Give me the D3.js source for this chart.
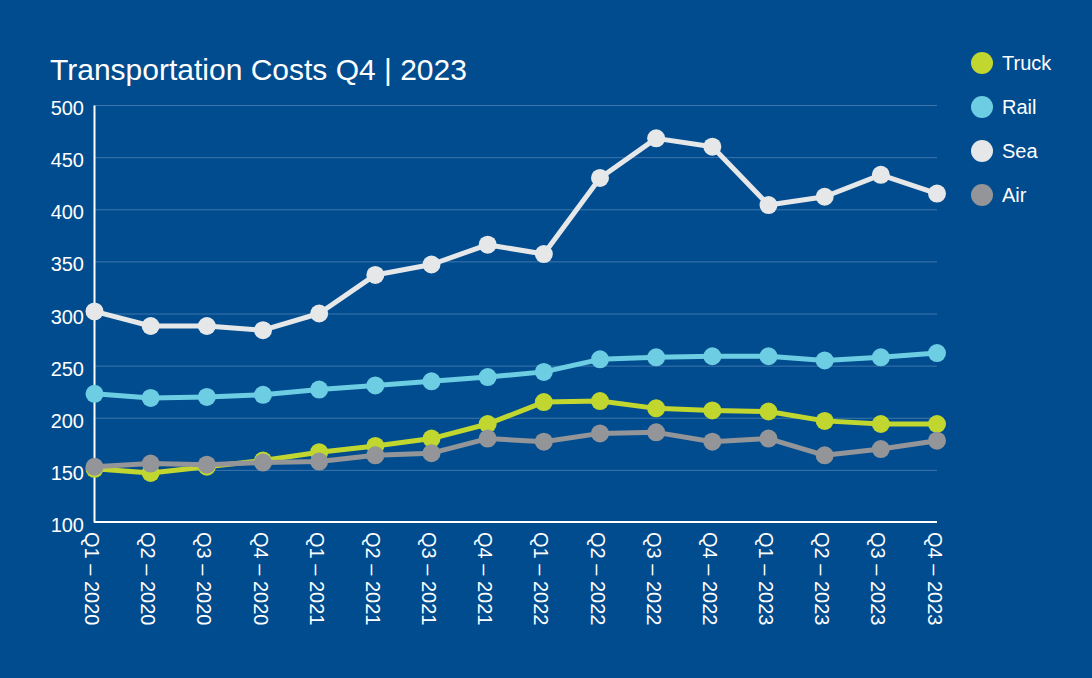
<!DOCTYPE html>
<html>
<head>
<meta charset="utf-8">
<script src="https://cdn.jsdelivr.net/npm/d3@7"></script>
<style>
  html, body { margin: 0; padding: 0; background: #014c8e; }
  svg { display: block; font-family: "Liberation Sans", Arial, sans-serif; }
</style>
</head>
<body>
<div id="chart"></div>
<script>
const quarters = [
    "Q1 – 2020", "Q2 – 2020", "Q3 – 2020", "Q4 – 2020",
    "Q1 – 2021", "Q2 – 2021", "Q3 – 2021", "Q4 – 2021",
    "Q1 – 2022", "Q2 – 2022", "Q3 – 2022", "Q4 – 2022",
    "Q1 – 2023", "Q2 – 2023", "Q3 – 2023", "Q4 – 2023"
];

const truck = [151, 147, 153, 159, 167, 173, 180, 194, 215, 216, 209, 207, 206, 197, 194, 194];
const rail  = [223, 219, 220, 222, 227, 231, 235, 239, 244, 256, 258, 259, 259, 255, 258, 262];
const sea   = [302, 288, 288, 284, 300, 337, 347, 366, 357, 430, 468, 460, 404, 412, 433, 415];
const air   = [153, 156, 155, 157, 158, 164, 166, 180, 177, 185, 186, 177, 180, 164, 170, 178];

const seriesNames = ["Truck", "Rail", "Sea", "Air"];
const yTicks = [100, 150, 200, 250, 300, 350, 400, 450, 500];

const COLORS = {
    bg: "#014c8e",
    grid: "#3d75ab",
    axis: "#ffffff",
    text: "#ffffff",
    Truck: "#c1d72f",
    Rail: "#6dcde2",
    Sea: "#e6e7e9",
    Air: "#939598"
};

const width = 1092, height = 678;
const margin = { top: 105, right: 155, bottom: 156, left: 94 };

const series = [
    { name: "Truck", values: truck },
    { name: "Rail", values: rail },
    { name: "Sea", values: sea },
    { name: "Air", values: air }
];

const svg = d3.select("#chart")
    .append("svg")
    .attr("width", width)
    .attr("height", height);

svg.append("rect")
    .attr("width", width)
    .attr("height", height)
    .attr("fill", COLORS.bg);

const x = d3.scalePoint()
    .domain(quarters)
    .range([margin.left + 0.5, width - margin.right]);

const y = d3.scaleLinear()
    .domain([100, 500])
    .range([height - margin.bottom, margin.top]);

// title
svg.append("text")
    .attr("x", 50)
    .attr("y", 80)
    .attr("fill", COLORS.text)
    .style("font-size", "30px")
    .text("Transportation Costs Q4 | 2023");

// grid lines
svg.append("g")
    .selectAll("line")
    .data(yTicks.slice(1))
    .enter()
    .append("line")
    .attr("x1", margin.left)
    .attr("x2", width - margin.right)
    .attr("y1", d => y(d) + 0.5)
    .attr("y2", d => y(d) + 0.5)
    .attr("stroke", COLORS.grid)
    .attr("stroke-width", 1);

// y axis
const yAxis = svg.append("g")
    .attr("transform", `translate(${margin.left},0)`)
    .call(d3.axisLeft(y).tickValues(yTicks).tickSize(0).tickPadding(10));
yAxis.select(".domain").attr("stroke", COLORS.axis).attr("stroke-width", 2);
yAxis.selectAll("text")
    .attr("fill", COLORS.text)
    .attr("dy", "0.48em")
    .style("font-size", "20px")
    .style("font-family", "Liberation Sans, Arial, sans-serif");

// x axis
const xAxis = svg.append("g")
    .attr("transform", `translate(0,${height - margin.bottom})`)
    .call(d3.axisBottom(x).tickSize(0).tickPadding(0));
xAxis.select(".domain")
    .attr("d", `M${margin.left},0H${width - margin.right}`)
    .attr("stroke", COLORS.axis)
    .attr("stroke-width", 2);
xAxis.selectAll("text")
    .attr("fill", COLORS.text)
    .style("font-size", "20px")
    .style("font-family", "Liberation Sans, Arial, sans-serif")
    .attr("text-anchor", "start")
    .attr("dy", "0.5em")
    .attr("y", 0)
    .attr("transform", "translate(0,10) rotate(90)");

// lines
const line = d3.line()
    .x((d, i) => x(quarters[i]))
    .y(d => y(d));

const drawOrder = ["Sea", "Rail", "Truck", "Air"];
drawOrder.forEach(name => {
    const s = series.find(d => d.name === name);
    const g = svg.append("g");
    g.append("path")
        .datum(s.values)
        .attr("d", line)
        .attr("fill", "none")
        .attr("stroke", COLORS[name])
        .attr("stroke-width", 5)
        .attr("stroke-linejoin", "round");
    g.selectAll("circle")
        .data(s.values)
        .enter()
        .append("circle")
        .attr("cx", (d, i) => x(quarters[i]))
        .attr("cy", d => y(d))
        .attr("r", 9)
        .attr("fill", COLORS[name]);
});

// legend
const legend = svg.append("g")
    .selectAll("g")
    .data(seriesNames)
    .enter()
    .append("g")
    .attr("transform", (d, i) => `translate(982,${63 + i * 44})`);

legend.append("circle")
    .attr("r", 11)
    .attr("fill", d => COLORS[d]);

legend.append("text")
    .attr("x", 20)
    .attr("dy", "0.35em")
    .attr("fill", COLORS.text)
    .style("font-size", "20px")
    .text(d => d);
</script>
</body>
</html>
